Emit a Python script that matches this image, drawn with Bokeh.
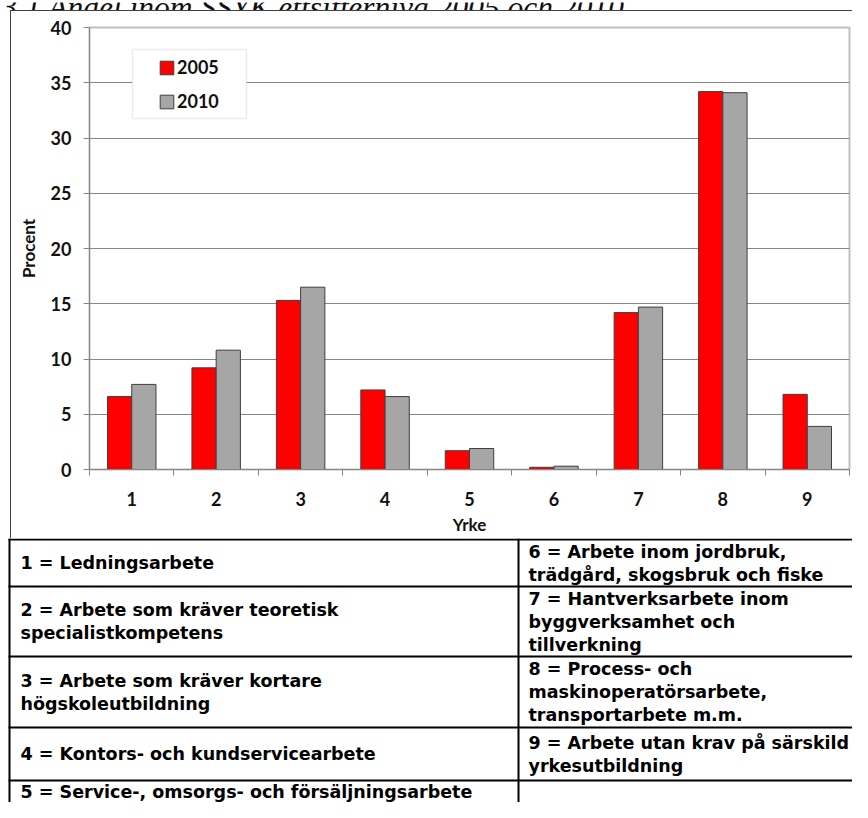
from bokeh.plotting import figure
from bokeh.models import (Range1d, FixedTicker, Legend, LegendItem, BoxAnnotation,
                          ColumnDataSource)
from bokeh.transform import dodge
from bokeh.layouts import column
from bokeh.embed import file_html
from bokeh.resources import INLINE
from bokeh.core.properties import value

# ---------------- data ----------------
title_text = "3.1 Andel inom SSYK ettsiffernivå 2005 och 2010"
yrke = [1, 2, 3, 4, 5, 6, 7, 8, 9]
yrke_labels = ["1", "2", "3", "4", "5", "6", "7", "8", "9"]
andel_2005 = [6.6, 9.2, 15.3, 7.2, 1.7, 0.2, 14.2, 34.2, 6.8]
andel_2010 = [7.7, 10.8, 16.5, 6.6, 1.9, 0.3, 14.7, 34.1, 3.9]
series_names = ["2005", "2010"]
y_ticks = [0, 5, 10, 15, 20, 25, 30, 35, 40]
x_label = "Yrke"
y_label = "Procent"

beskrivning_vanster = [
    "1 = Ledningsarbete",
    "2 = Arbete som kräver teoretisk\nspecialistkompetens",
    "3 = Arbete som kräver kortare\nhögskoleutbildning",
    "4 = Kontors- och kundservicearbete",
    "5 = Service-, omsorgs- och försäljningsarbete",
]
beskrivning_hoger = [
    "6 = Arbete inom jordbruk,\nträdgård, skogsbruk och fiske",
    "7 = Hantverksarbete inom\nbyggverksamhet och\ntillverkning",
    "8 = Process- och\nmaskinoperatörsarbete,\ntransportarbete m.m.",
    "9 = Arbete utan krav på särskild\nyrkesutbildning",
]

# ---------------- styles / layout ----------------
RED = "#FF0000"
GREY = "#A6A6A6"
EDGE = "#3F3F3F"
AXIS = "#868686"
FRAME = "#404040"
TICK_FONT = "Lato"
TABLE_FONT = "DejaVu Sans"
W = 852
H_TITLE, H_CHART, H_TABLE = 10, 528, 264


def sheet(height):
    f = figure(width=W, height=height, output_backend="svg", toolbar_location=None,
               tools="", title=None, x_range=Range1d(0, W), y_range=Range1d(height, 0),
               min_border=0, x_axis_location=None, y_axis_location=None)
    f.grid.visible = False
    f.outline_line_color = None
    f.background_fill_color = "white"
    f.border_fill_color = "white"
    return f


# ---------------- title strip (cut at the top, as in the source) ----------------
tf = sheet(H_TITLE)
tf.text(x=[1], y=[5], text=[title_text], text_font=value("Liberation Serif"),
        text_font_style="italic", text_font_size=value("31.5px"),
        text_baseline="alphabetic", text_align="left", text_color="#111111")

# ---------------- chart ----------------
p = figure(width=W, height=H_CHART, output_backend="svg", toolbar_location=None,
           tools="", title=None,
           x_range=Range1d(0.5, 9.5), y_range=Range1d(0, 40),
           min_border_left=89, min_border_right=3,
           min_border_top=17, min_border_bottom=69)
p.background_fill_color = "white"
p.border_fill_alpha = 0
p.outline_line_color = "#BFBFBF"
p.outline_line_width = 2
# outer frame of the chart area (left and top edges), painted behind the canvas
p.styles = {
    "background-color": "white",
    "background-image": f"linear-gradient({FRAME},{FRAME}), linear-gradient({FRAME},{FRAME})",
    "background-size": "1px 100%, 100% 1px",
    "background-position": "10px 0px, 10px 0px",
    "background-repeat": "no-repeat",
}

src = ColumnDataSource(dict(x=yrke, a=andel_2005, b=andel_2010))
bw = 0.287
r1 = p.vbar(x=dodge("x", -bw / 2, range=p.x_range), top="a", width=bw, source=src,
            fill_color=RED, line_color=EDGE, line_width=1)
r2 = p.vbar(x=dodge("x", bw / 2, range=p.x_range), top="b", width=bw, source=src,
            fill_color=GREY, line_color=EDGE, line_width=1)

# x axis
xa = p.xaxis[0]
xa.ticker = FixedTicker(ticks=yrke, minor_ticks=[x - 0.5 for x in yrke] + [yrke[-1] + 0.5])
xa.major_label_overrides = {x: l for x, l in zip(yrke, yrke_labels)}
xa.major_tick_out = 0
xa.major_tick_in = 0
xa.minor_tick_out = 6
xa.minor_tick_in = 0
xa.minor_tick_line_color = AXIS
xa.axis_line_color = AXIS
xa.major_label_text_font = TICK_FONT
xa.major_label_text_font_style = "bold"
xa.major_label_text_font_size = "18px"
xa.major_label_text_color = "#111111"
xa.major_label_standoff = 16
xa.axis_label = x_label
xa.axis_label_text_font = TICK_FONT
xa.axis_label_text_font_style = "bold"
xa.axis_label_text_font_size = "17px"
xa.axis_label_text_color = "#111111"
xa.axis_label_standoff = 5

# y axis
ya = p.yaxis[0]
ya.ticker = FixedTicker(ticks=y_ticks, minor_ticks=[])
ya.major_tick_out = 6
ya.major_tick_in = 0
ya.minor_tick_out = 0
ya.major_tick_line_color = AXIS
ya.axis_line_color = AXIS
ya.major_label_text_font = TICK_FONT
ya.major_label_text_font_style = "bold"
ya.major_label_text_font_size = "18px"
ya.major_label_text_color = "#111111"
ya.major_label_standoff = 12
ya.axis_label = y_label
ya.axis_label_text_font = TICK_FONT
ya.axis_label_text_font_style = "bold"
ya.axis_label_text_font_size = "17px"
ya.axis_label_text_color = "#111111"
ya.axis_label_standoff = 9

p.xgrid.visible = False
p.ygrid.ticker = FixedTicker(ticks=y_ticks, minor_ticks=[])
p.ygrid.grid_line_color = AXIS
p.ygrid.grid_line_width = 1

# legend box (inside the plot frame)
p.add_layout(BoxAnnotation(left=132, right=246, top=39, bottom=108,
                           left_units="canvas", right_units="canvas",
                           top_units="canvas", bottom_units="canvas", level="glyph",
                           fill_color="white", fill_alpha=1.0,
                           line_color="#BFBFBF", line_width=1.5))

legend = Legend(items=[LegendItem(label=series_names[0], renderers=[r1]),
                       LegendItem(label=series_names[1], renderers=[r2])],
                location=(69, 357), orientation="vertical")
legend.padding = 0
legend.margin = 0
legend.spacing = 12
legend.glyph_width = 17
legend.glyph_height = 17
legend.label_height = 22
legend.label_standoff = 2
legend.label_text_font = TICK_FONT
legend.label_text_font_style = "bold"
legend.label_text_font_size = "18px"
legend.label_text_color = "#111111"
legend.border_line_color = None
legend.background_fill_alpha = 0
p.add_layout(legend)

# ---------------- table below the chart ----------------
t = sheet(H_TABLE)
row_lines = [1, 48, 118, 189, 242]
row_mid = [24.5, 83, 153.5, 215.5, 253]
col_border = 9
col_div = 518
col_left_x = 20
col_right_x = 528

t.segment(x0=[8] * len(row_lines), x1=[W] * len(row_lines), y0=row_lines, y1=row_lines,
          line_color="black", line_width=2)
t.segment(x0=[col_border, col_div], x1=[col_border, col_div], y0=[0, 0],
          y1=[H_TABLE, H_TABLE], line_color="black", line_width=2)

t.text(x=[col_left_x] * len(beskrivning_vanster), y=row_mid[:len(beskrivning_vanster)],
       text=beskrivning_vanster, text_font=value(TABLE_FONT), text_font_style="bold",
       text_font_size=value("17.5px"), text_baseline="middle", text_align="left",
       text_line_height=1.15, text_color="black")
t.text(x=[col_right_x] * len(beskrivning_hoger), y=row_mid[:len(beskrivning_hoger)],
       text=beskrivning_hoger, text_font=value(TABLE_FONT), text_font_style="bold",
       text_font_size=value("17.5px"), text_baseline="middle", text_align="left",
       text_line_height=1.15, text_color="black")

for f in (tf, p, t):
    if "frame_align" in f.properties():
        f.frame_align = False

layout = column(tf, p, t, spacing=0)
open("out.html", "w").write(file_html(layout, INLINE))
